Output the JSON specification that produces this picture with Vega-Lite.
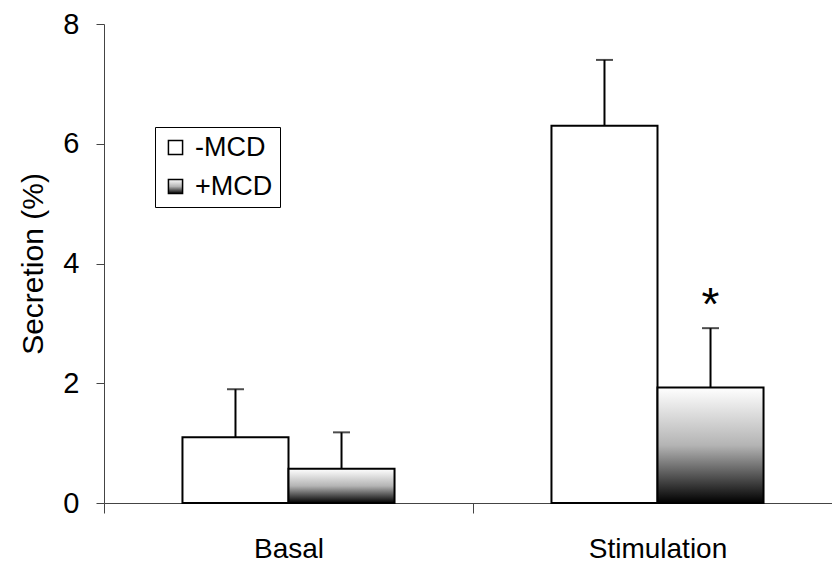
{
  "$schema": "https://vega.github.io/schema/vega-lite/v6.json",
  "width": 728,
  "height": 479,
  "autosize": {"type": "none"},
  "padding": {"left": 104, "top": 24, "right": 0, "bottom": 67},
  "background": "white",
  "config": {"view": {"stroke": null}, "font": "Liberation Sans"},
  "data": {
    "values": [
      {"category": "Basal", "series": "-MCD", "value": 1.1, "upper": 1.9, "sig": ""},
      {"category": "Basal", "series": "+MCD", "value": 0.57, "upper": 1.18, "sig": ""},
      {"category": "Stimulation", "series": "-MCD", "value": 6.3, "upper": 7.4, "sig": ""},
      {"category": "Stimulation", "series": "+MCD", "value": 1.93, "upper": 2.92, "sig": "*"}
    ]
  },
  "encoding": {
    "x": {
      "field": "category",
      "type": "nominal",
      "scale": {"paddingInner": 0, "paddingOuter": 0, "range": [0, 738]},
      "axis": {
        "title": null,
        "labelAngle": 0,
        "tickBand": "extent",
        "tickSize": 10,
        "labelFontSize": 28,
        "labelPadding": 22,
        "labelColor": "black",
        "domainColor": "#444444",
        "tickColor": "#444444"
      }
    },
    "xOffset": {
      "field": "series",
      "type": "nominal",
      "sort": ["-MCD", "+MCD"],
      "scale": {"paddingOuter": 0.74, "paddingInner": 0}
    }
  },
  "layer": [
    {
      "mark": {"type": "bar", "stroke": "black", "strokeWidth": 2},
      "encoding": {
        "y": {
          "field": "value",
          "type": "quantitative",
          "scale": {"domain": [0, 8], "nice": false},
          "axis": {
            "title": "Secretion (%)",
            "values": [0, 2, 4, 6, 8],
            "format": "d",
            "grid": false,
            "tickSize": 8,
            "labelFontSize": 29,
            "labelPadding": 17,
            "labelColor": "black",
            "titleFontSize": 30,
            "titleFontWeight": "normal",
            "titleColor": "black",
            "titlePadding": 14,
            "domainColor": "#444444",
            "tickColor": "#444444"
          }
        },
        "fill": {
          "condition": {
            "test": "datum.series === '+MCD'",
            "value": {
              "gradient": "linear",
              "x1": 0, "y1": 0, "x2": 0, "y2": 1,
              "stops": [
                {"offset": 0, "color": "#ffffff"},
                {"offset": 0.5, "color": "#b4b4b4"},
                {"offset": 1, "color": "#000000"}
              ]
            }
          },
          "value": "white"
        },
        "opacity": {
          "field": "series",
          "type": "nominal",
          "sort": ["-MCD", "+MCD"],
          "scale": {"domain": ["-MCD", "+MCD"], "range": [1, 1]},
          "legend": {
            "title": null,
            "orient": "none",
            "legendX": 51,
            "legendY": 103,
            "strokeColor": "black",
            "fillColor": "white",
            "padding": 7,
            "symbolType": "square",
            "symbolSize": 200,
            "labelFontSize": 27,
            "labelColor": "black",
            "labelOffset": 6,
            "rowPadding": 11,
            "encoding": {
              "symbols": {
                "fill": {
                  "condition": {
                    "test": "datum.value === '+MCD'",
                    "value": {
                      "gradient": "linear",
                      "x1": 0, "y1": 0, "x2": 0, "y2": 1,
                      "stops": [
                        {"offset": 0, "color": "#ffffff"},
                        {"offset": 0.5, "color": "#b4b4b4"},
                        {"offset": 1, "color": "#000000"}
                      ]
                    }
                  },
                  "value": "white"
                },
                "stroke": {"value": "black"},
                "strokeWidth": {"value": 1.5},
                "opacity": {"value": 1}
              }
            }
          }
        }
      }
    },
    {
      "mark": {"type": "rule", "strokeWidth": 2, "color": "black"},
      "encoding": {
        "y": {"field": "value", "type": "quantitative"},
        "y2": {"field": "upper"}
      }
    },
    {
      "mark": {"type": "tick", "thickness": 2, "size": 17, "color": "black", "orient": "horizontal"},
      "encoding": {
        "y": {"field": "upper", "type": "quantitative"}
      }
    },
    {
      "mark": {"type": "text", "fontSize": 46, "dy": -8, "baseline": "alphabetic", "color": "black"},
      "encoding": {
        "y": {"field": "upper", "type": "quantitative"},
        "text": {"field": "sig"}
      }
    }
  ]
}
